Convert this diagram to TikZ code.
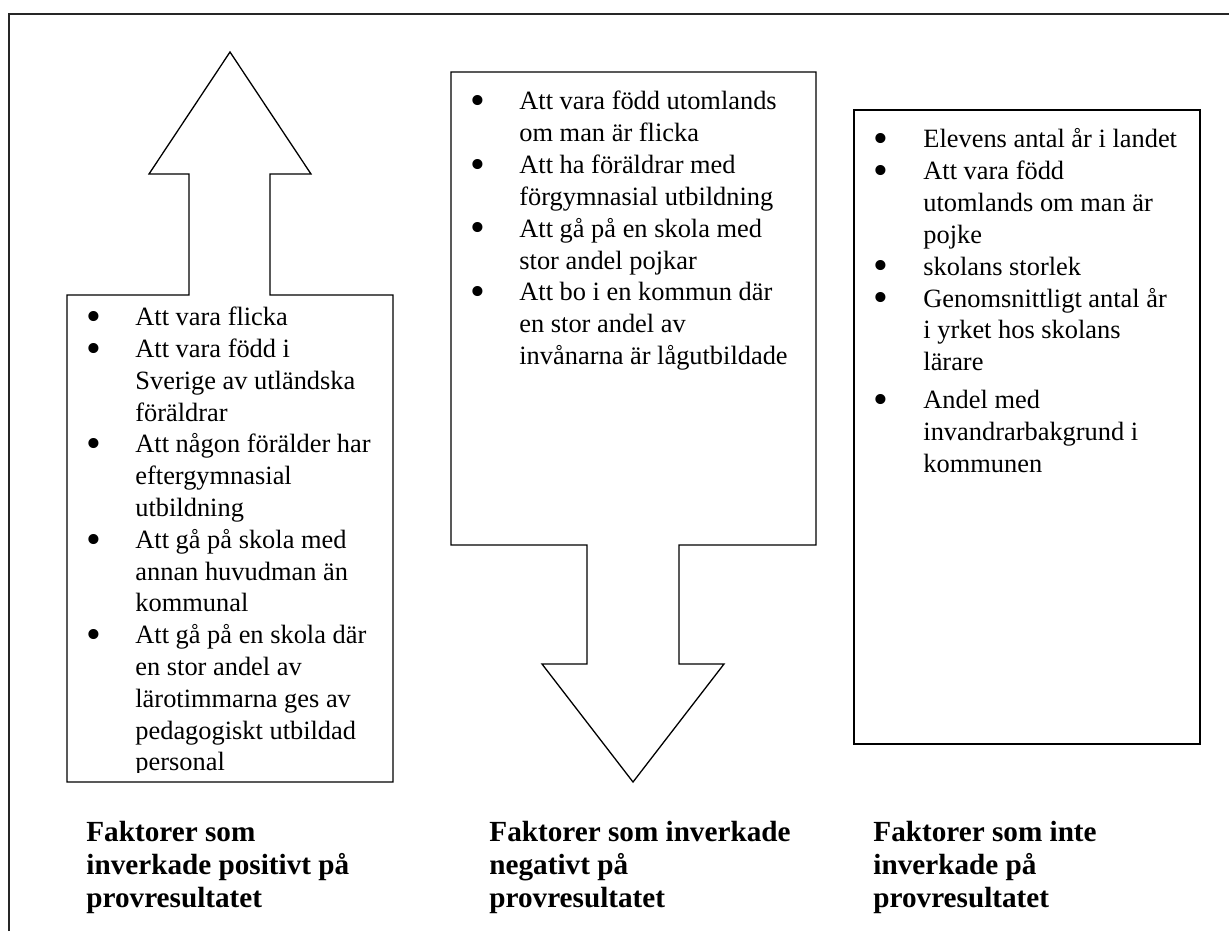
\documentclass[tikz,border=0pt]{standalone}
\usepackage{graphicx}
\usepackage{fontspec}
\setmainfont{Liberation Serif}
\newcommand{\bul}[1]{\makebox[#1][l]{\makebox[0pt]{\raisebox{-2.4pt}{\scalebox{1.6}{\textbullet}}}}}
\tikzset{
  body/.style={anchor=base west, inner sep=0pt, font=\fontsize{13.2}{15.9}\selectfont},
  lab/.style={anchor=base west, inner sep=0pt, font=\fontsize{14.6}{16.5}\selectfont\bfseries},
  outline/.style={draw=black, line width=0.65pt, line join=miter},
  frame/.style={draw=black!85, line width=1pt}
}
\begin{document}
\begin{tikzpicture}[x=0.5pt,y=-0.5pt]
\useasboundingbox (0,0) rectangle (1229,931);
% outer frame (top and left edges)
\draw[frame] (9,931) -- (9,14) -- (1229,14);
% up arrow box (positive)
\draw[outline] (67,782) -- (67,295) -- (189,295) -- (189,174) -- (149,174) -- (230,52)
  -- (311,174) -- (270,174) -- (270,295) -- (393,295) -- (393,782) -- cycle;
% down arrow box (negative)
\draw[outline] (451,72) -- (816,72) -- (816,545) -- (679,545) -- (679,664) -- (724,664)
  -- (633,782) -- (542,664) -- (587,664) -- (587,545) -- (451,545) -- cycle;
% plain box (no effect)
\draw[outline, line width=0.9pt] (854,110) rectangle (1200,744);

\begin{scope}
\clip (67,295) rectangle (393,772);
\node[body] (pos) at (93,325.7) {\begin{tabular}[t]{@{}l@{}l@{}}
\bul{21pt} & Att vara flicka\\
\bul{21pt} & Att vara född i\\
 & Sverige av utländska\\
 & föräldrar\\
\bul{21pt} & Att någon förälder har\\
 & eftergymnasial\\
 & utbildning\\
\bul{21pt} & Att gå på skola med\\
 & annan huvudman än\\
 & kommunal\\
\bul{21pt} & Att gå på en skola där\\
 & en stor andel av\\
 & lärotimmarna ges av\\
 & pedagogiskt utbildad\\
 & personal
\end{tabular}};
\end{scope}

\node[body] (neg) at (477,110) {\begin{tabular}[t]{@{}l@{}l@{}}
\bul{21pt} & Att vara född utomlands\\
 & om man är flicka\\
\bul{21pt} & Att ha föräldrar med\\
 & förgymnasial utbildning\\
\bul{21pt} & Att gå på en skola med\\
 & stor andel pojkar\\
\bul{21pt} & Att bo i en kommun där\\
 & en stor andel av\\
 & invånarna är lågutbildade
\end{tabular}};

\node[body] (none) at (880,148) {\begin{tabular}[t]{@{}l@{}l@{}}
\bul{21.5pt} & Elevens antal år i landet\\
\bul{21.5pt} & Att vara född\\
 & utomlands om man är\\
 & pojke\\
\bul{21.5pt} & skolans storlek\\
\bul{21.5pt} & Genomsnittligt antal år\\
 & i yrket hos skolans\\
 & lärare\\[3pt]
\bul{21.5pt} & Andel med\\
 & invandrarbakgrund i\\
 & kommunen
\end{tabular}};

\node[lab] (labpos) at (86,841) {\begin{tabular}[t]{@{}l@{}}
Faktorer som\\ inverkade positivt på\\ provresultatet
\end{tabular}};
\node[lab] (labneg) at (489,841) {\begin{tabular}[t]{@{}l@{}}
Faktorer som inverkade\\ negativt på\\ provresultatet
\end{tabular}};
\node[lab] (labnone) at (873,841) {\begin{tabular}[t]{@{}l@{}}
Faktorer som inte\\ inverkade på\\ provresultatet
\end{tabular}};
\end{tikzpicture}
\end{document}
